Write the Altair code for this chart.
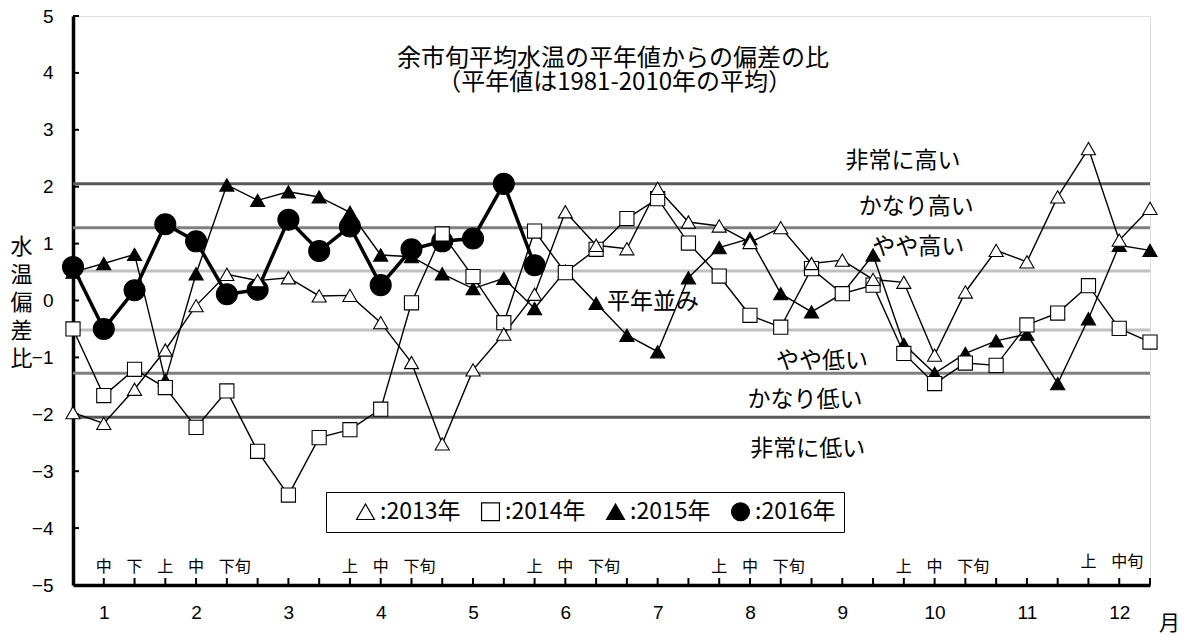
import altair as alt
import pandas as pd

years = ["2013", "2014", "2015", "2016"]
dekad_index = list(range(36))

y2013 = [-1.97, -2.16, -1.56, -0.87, -0.09, 0.46, 0.35, 0.40, 0.08, 0.09, -0.39, -1.09,
         -2.52, -1.22, -0.59, 0.11, 1.56, 0.97, 0.91, 1.97, 1.38, 1.31, 1.02, 1.28,
         0.65, 0.71, 0.37, 0.32, -0.96, 0.15, 0.88, 0.68, 1.82, 2.67, 1.06, 1.62]
y2014 = [-0.50, -1.67, -1.21, -1.53, -2.23, -1.59, -2.65, -3.42, -2.41, -2.27, -1.91, -0.04,
         1.17, 0.42, -0.39, 1.22, 0.49, 0.90, 1.44, 1.79, 1.01, 0.43, -0.26, -0.47,
         0.56, 0.12, 0.27, -0.93, -1.46, -1.10, -1.14, -0.43, -0.22, 0.26, -0.49, -0.73]
y2015 = [0.50, 0.65, 0.81, -1.40, 0.47, 2.03, 1.76, 1.91, 1.82, 1.55, 0.80, 0.77,
         0.47, 0.21, 0.39, -0.14, 0.52, -0.05, -0.61, -0.90, 0.40, 0.93, 1.09, 0.12,
         -0.20, 0.12, 0.80, -0.77, -1.28, -0.93, -0.71, -0.59, -1.46, -0.32, 0.97, 0.88]
y2016 = [0.59, -0.50, 0.18, 1.34, 1.04, 0.11, 0.19, 1.42, 0.87, 1.30, 0.27, 0.90,
         1.04, 1.09, 2.05, 0.62]

series = [y2013, y2014, y2015, y2016]
draw_rank = [3, 2, 1, 0]

month_ticks = [1, 4, 7, 10, 13, 16, 19, 22, 25, 28, 31, 34]
y_ticks = [-5, -4, -3, -2, -1, 0, 1, 2, 3, 4, 5]
x_minor = list(range(1, 36))

thresholds = [2.05, 1.28, 0.52, -0.52, -1.28, -2.05]
threshold_level = ["a", "b", "c", "c", "b", "a"]

band_text = ["非常に高い", "かなり高い", "やや高い", "平年並み", "やや低い", "かなり低い", "非常に低い"]
band_i = [26.97, 27.40, 27.47, 18.85, 24.34, 23.79, 23.88]
band_v = [2.46, 1.64, 0.94, -0.03, -1.07, -1.75, -2.61]

title_text = ["余市旬平均水温の平年値からの偏差の比", "（平年値は1981-2010年の平均）"]
title_i = [17.55, 17.6]
title_v = [4.25, 3.83]

dek_i = [1, 2, 3, 4, 5, 9, 10, 11, 15, 16, 17, 21, 22, 23, 27, 28, 29, 33, 34]
dek_text = ["中", "下", "上", "中", "下旬", "上", "中", "下旬", "上", "中", "下旬",
            "上", "中", "下旬", "上", "中", "下旬", "上", "中旬"]
dek_v = [-4.68] * 17 + [-4.60, -4.60]

JP = "Noto Sans CJK JP"
NUM = "Liberation Sans"

rows = []
for yr, vals, rk in zip(years, series, draw_rank):
    for i, v in zip(dekad_index, vals):
        rows.append({"year": yr, "i": i, "v": v, "z": rk})
df = pd.DataFrame(rows)
df_thin = df[df["year"] != "2016"]
df_bold = df[df["year"] == "2016"]

df_thr = pd.DataFrame({"v": thresholds, "lvl": threshold_level})
df_band = pd.DataFrame({"t": band_text, "i": band_i, "v": band_v})
df_title = pd.DataFrame({"t": title_text, "i": title_i, "v": title_v})
df_dek = pd.DataFrame({"t": dek_text, "i": dek_i, "v": dek_v})
df_xt = pd.DataFrame({"i": x_minor})
df_yt = pd.DataFrame({"v": y_ticks})

xscale = alt.Scale(domain=[0, 35], nice=False, zero=False)
yscale = alt.Scale(domain=[-5, 5], nice=False, zero=False)

xaxis = alt.Axis(values=month_ticks, labelExpr="format((datum.value - 1) / 3 + 1, 'd')",
                 title="月", titleX=1096, titleY=44, titleAlign="center",
                 titleBaseline="alphabetic", titleFont=JP, titleFontSize=21,
                 titleFontWeight="normal", titleColor="black",
                 labelFont=NUM, labelFontSize=19, labelColor="black", labelPadding=18,
                 labelFlush=False, labelOverlap=False,
                 ticks=False, tickSize=0, grid=False, domainColor="black", domainWidth=3.5)
yaxis = alt.Axis(values=y_ticks, title=["水", "温", "偏", "差", "比"], titleAngle=0,
                 titleX=-52, titleY=237, titleAlign="center", titleBaseline="alphabetic",
                 titleFont=JP, titleFontSize=22, titleFontWeight="normal", titleColor="black",
                 titleLineHeight=28,
                 labelFont=NUM, labelFontSize=19, labelColor="black", labelPadding=20,
                 labelFlush=False, labelOverlap=False,
                 ticks=False, tickSize=0, grid=False, domainColor="black", domainWidth=3.5)

X = alt.X("i:Q", scale=xscale, axis=xaxis)
Y = alt.Y("v:Q", scale=yscale, axis=yaxis)

legend = alt.Legend(title=" ", titleOrient="left", titleFontSize=6, titlePadding=20,
                    orient="none", legendX=253, legendY=476, direction="horizontal",
                    labelExpr="':' + datum.label + '年'", strokeColor="black", fillColor="white",
                    padding=8, symbolSize=320, symbolStrokeWidth=1.2,
                    labelFont=JP, labelFontSize=23, labelColor="black", labelOffset=3,
                    columnPadding=18)

shape_enc = alt.Shape("year:N", scale=alt.Scale(domain=years,
                                                range=["triangle-up", "square", "triangle-up", "circle"]),
                      legend=legend)
fill_enc = alt.Fill("year:N", scale=alt.Scale(domain=years, range=["white", "white", "black", "black"]),
                    legend=legend)
stroke_enc = alt.Stroke("year:N", scale=alt.Scale(domain=years, range=["black", "black", "black", "black"]),
                        legend=legend)

thr = alt.Chart(df_thr).mark_rule(strokeWidth=3).encode(
    y=Y,
    color=alt.Color("lvl:N", scale=alt.Scale(domain=["a", "b", "c"],
                                             range=["#595959", "#7f7f7f", "#c0c0c0"]),
                    legend=None),
)

xt = alt.Chart(df_xt).mark_rule(color="black", strokeWidth=2).encode(
    x=X, y=alt.value(569), y2=alt.value(562))
yt = alt.Chart(df_yt).mark_rule(color="black", strokeWidth=2).encode(
    y=Y, x=alt.value(0), x2=alt.value(6))

line_bold = alt.Chart(df_bold).mark_line(color="black", strokeWidth=3.5).encode(
    x=X, y=Y, detail="year:N", order="i:Q")
pts_bold = alt.Chart(df_bold).mark_point(filled=True, strokeWidth=1.1, opacity=1,
                                         size=440).encode(x=X, y=Y, shape=shape_enc, fill=fill_enc,
                                                          stroke=stroke_enc)
line_thin = alt.Chart(df_thin).mark_line(color="black", strokeWidth=1.4).encode(
    x=X, y=Y, detail="year:N", order="i:Q")
pts_thin = alt.Chart(df_thin).mark_point(filled=True, strokeWidth=1.1, opacity=1,
                                         size=200).encode(
    x=X, y=Y, shape=shape_enc, fill=fill_enc, stroke=stroke_enc, order=alt.Order("z:Q"))

band = alt.Chart(df_band).mark_text(font=JP, fontSize=23, color="black", baseline="middle",
                                    align="center").encode(x=X, y=Y, text="t:N")
ttl = alt.Chart(df_title).mark_text(font=JP, fontSize=24, color="black", baseline="middle",
                                    align="center").encode(x=X, y=Y, text="t:N")
dek = alt.Chart(df_dek).mark_text(font=JP, fontSize=16, color="black", baseline="middle",
                                  align="left", dx=-8).encode(x=X, y=Y, text="t:N")

chart = alt.layer(thr, xt, yt, line_bold, pts_bold, line_thin, pts_thin, band, ttl, dek).properties(
    width=1077, height=569,
    padding={"left": 65, "top": 8, "right": 30, "bottom": 50},
    autosize=alt.AutoSizeParams(type="none"),
).configure_view(stroke="black", strokeWidth=2.5).configure(background="white")

chart.save("out.html", embed_options={"renderer": "svg", "actions": False})
